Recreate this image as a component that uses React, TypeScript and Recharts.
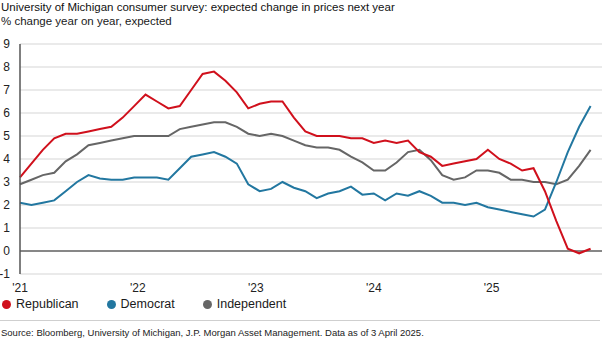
import React from 'react';
import { LineChart, Line, XAxis, YAxis, CartesianGrid, ReferenceLine } from 'recharts';

// monthly readings, Jan 2021 .. Mar 2025
const republican = [
  3.2, 3.8, 4.4, 4.9, 5.1, 5.1, 5.2, 5.3, 5.4, 5.8, 6.3, 6.8, 6.5, 6.2, 6.3, 7.0, 7.7, 7.8, 7.4, 6.9,
  6.2, 6.4, 6.5, 6.5, 5.8, 5.2, 5.0, 5.0, 5.0, 4.9, 4.9, 4.7, 4.8, 4.7, 4.8, 4.3, 4.1, 3.7, 3.8, 3.9,
  4.0, 4.4, 4.0, 3.8, 3.5, 3.6, 2.6, 1.3, 0.1, -0.1, 0.1,
];
const democrat = [
  2.1, 2.0, 2.1, 2.2, 2.6, 3.0, 3.3, 3.15, 3.1, 3.1, 3.2, 3.2, 3.2, 3.1, 3.6, 4.1, 4.2, 4.3, 4.1, 3.8,
  2.9, 2.6, 2.7, 3.0, 2.75, 2.6, 2.3, 2.5, 2.6, 2.8, 2.45, 2.5, 2.2, 2.5, 2.4, 2.6, 2.4, 2.1, 2.1, 2.0,
  2.1, 1.9, 1.8, 1.7, 1.6, 1.5, 1.8, 3.0, 4.3, 5.4, 6.3,
];
const independent = [
  2.9, 3.1, 3.3, 3.4, 3.9, 4.2, 4.6, 4.7, 4.8, 4.9, 5.0, 5.0, 5.0, 5.0, 5.3, 5.4, 5.5, 5.6, 5.6, 5.4,
  5.1, 5.0, 5.1, 5.0, 4.8, 4.6, 4.5, 4.5, 4.4, 4.1, 3.85, 3.5, 3.5, 3.85, 4.3, 4.4, 3.95, 3.3, 3.1, 3.2,
  3.5, 3.5, 3.4, 3.1, 3.1, 3.0, 3.0, 2.9, 3.1, 3.7, 4.4,
];

const yearTicks = [0, 10.33, 20.67, 31, 41.33];
const yearLabels = ["'21", "'22", "'23", "'24", "'25"];
const yTicks = [-1, 0, 1, 2, 3, 4, 5, 6, 7, 8, 9];

const RED = '#d0101c';
const BLUE = '#2277a0';
const GREY = '#666666';

const data = republican.map((r, i) => ({
  idx: i,
  republican: r,
  democrat: democrat[i],
  independent: independent[i],
}));

const font = '"Liberation Sans", Arial, sans-serif';

const LegendItem = ({ color, label }: { color: string; label: string }) => (
  <div style={{ display: 'flex', alignItems: 'center', marginRight: 28 }}>
    <span style={{ width: 9, height: 9, borderRadius: '50%', background: color, marginRight: 5 }} />
    <span>{label}</span>
  </div>
);

export default function App() {
  return (
    <div style={{ position: 'absolute', left: 0, top: 0, width: 605, height: 342, background: '#fff', fontFamily: font, color: '#1a1a1a', overflow: 'hidden' }}>
      <div style={{ position: 'absolute', left: 1, top: 1, fontSize: 11.5, whiteSpace: 'nowrap', color: '#111' }}>
        University of Michigan consumer survey: expected change in prices next year
      </div>
      <div style={{ position: 'absolute', left: 1, top: 15, fontSize: 11.5, whiteSpace: 'nowrap' }}>
        % change year on year, expected
      </div>

      <div style={{ position: 'absolute', left: 0, top: 0 }}>
        <LineChart width={605} height={300} data={data} margin={{ top: 44, right: 3, left: 0, bottom: 6 }}>
          <CartesianGrid vertical={false} stroke="#e3e3e3" strokeWidth={1.5} />
          <XAxis
            dataKey="idx"
            type="number"
            domain={[0, 51]}
            ticks={yearTicks}
            tickFormatter={(v: number) => yearLabels[yearTicks.indexOf(v)]}
            axisLine={false}
            tickLine={false}
            tickSize={0}
            tickMargin={9}
            height={20}
            interval={0}
            tick={{ fill: '#222', fontSize: 12, fontFamily: font }}
          />
          <YAxis
            type="number"
            domain={[-1, 9]}
            ticks={yTicks}
            width={20}
            axisLine={{ stroke: '#555', strokeWidth: 1.5 }}
            tickLine={false}
            tickSize={0}
            tickMargin={10}
            interval={0}
            tick={{ fill: '#222', fontSize: 12, fontFamily: font }}
          />
          <ReferenceLine y={0} stroke="#666" strokeWidth={1.5} />
          <Line type="linear" dataKey="independent" stroke={GREY} strokeWidth={2} dot={false} isAnimationActive={false} />
          <Line type="linear" dataKey="democrat" stroke={BLUE} strokeWidth={2} dot={false} isAnimationActive={false} />
          <Line type="linear" dataKey="republican" stroke={RED} strokeWidth={2} dot={false} isAnimationActive={false} />
        </LineChart>
      </div>

      <div style={{ position: 'absolute', left: 2, top: 297, display: 'flex', fontSize: 12.5 }}>
        <LegendItem color={RED} label="Republican" />
        <LegendItem color={BLUE} label="Democrat" />
        <LegendItem color={GREY} label="Independent" />
      </div>

      <div style={{ position: 'absolute', left: 0, top: 320, width: 600, height: 1, background: '#cfcfcf' }} />

      <div style={{ position: 'absolute', left: 1, top: 327, fontSize: 9.5, whiteSpace: 'nowrap', color: '#222' }}>
        Source: Bloomberg, University of Michigan, J.P. Morgan Asset Management. Data as of 3 April 2025.
      </div>
    </div>
  );
}
